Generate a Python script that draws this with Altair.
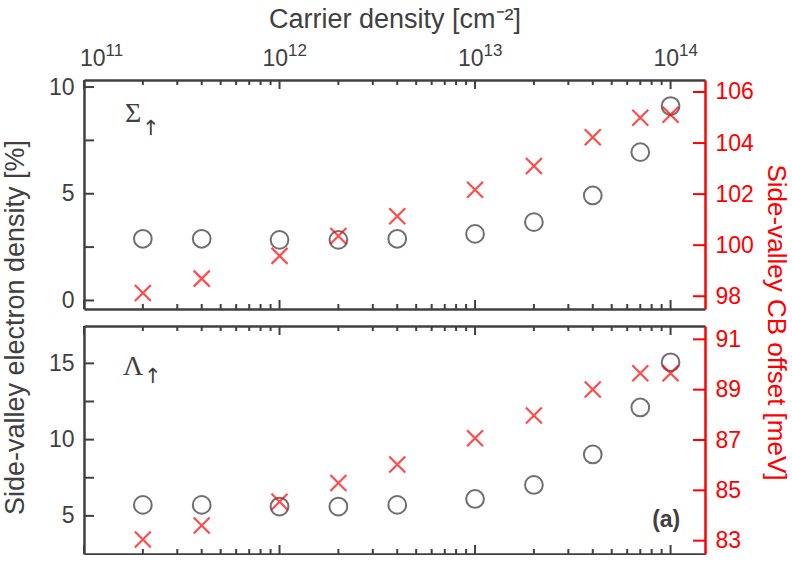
import altair as alt
import pandas as pd

# ---------------- data ----------------
carrier_density = [2e11, 4e11, 1e12, 2e12, 4e12, 1e13, 2e13, 4e13, 7e13, 1e14]
sigma_side_valley_pct = [2.89, 2.89, 2.84, 2.84, 2.89, 3.12, 3.67, 4.92, 6.95, 9.11]
sigma_cb_offset_mev = [98.13, 98.69, 99.58, 100.36, 101.13, 102.17, 103.10, 104.23, 104.99, 105.11]
lambda_side_valley_pct = [5.72, 5.72, 5.61, 5.61, 5.72, 6.11, 7.03, 9.03, 12.11, 15.07]
lambda_cb_offset_mev = [83.05, 83.60, 84.55, 85.29, 86.03, 87.07, 87.97, 89.01, 89.65, 89.65]

x_domain = [1e11, 1.5e14]
x_major_ticks = [1e11, 1e12, 1e13, 1e14]
x_minor_ticks = [2e11, 3e11, 4e11, 5e11, 6e11, 7e11, 8e11, 9e11,
                 2e12, 3e12, 4e12, 5e12, 6e12, 7e12, 8e12, 9e12,
                 2e13, 3e13, 4e13, 5e13, 6e13, 7e13, 8e13, 9e13]

top_left_domain = [-0.4, 10.33]
top_left_ticks = [0, 2.5, 5, 7.5, 10]
top_left_labels = [0, 5, 10]
top_right_domain = [97.5, 106.47]
top_right_ticks = [98, 100, 102, 104, 106]

bot_left_domain = [2.5, 17.45]
bot_left_ticks = [5, 7.5, 10, 12.5, 15]
bot_left_labels = [5, 10, 15]
bot_right_domain = [82.47, 91.53]
bot_right_ticks = [83, 85, 87, 89, 91]

# annotation texts (positions in data units)
panel_symbols = ["Σ", "Λ"]
symbol_x = [1.62e11, 1.585e11]
symbol_y = [8.36, 14.25]
arrow_x = [1.98e11, 2.03e11]
arrow_y = [7.75, 13.73]
panel_tag = "(a)"
tag_x = 9.5e13
tag_y = 4.3

GRAY = "#404040"
RED = "#ff0000"
W = 621
H_TOP = 229
H_BOT = 228
FONT = "Liberation Sans"
X_SHAPE = "M -1 -1 L 1 1 M -1 1 L 1 -1"


def make_panel(pct, mev, left_dom, left_ticks, left_labels, right_dom, right_ticks,
               H, idx, top):
    df = pd.DataFrame({"n": carrier_density, "pct": pct, "mev": mev})
    xs = alt.Scale(type="log", domain=x_domain)
    ysl = alt.Scale(domain=left_dom)
    ysr = alt.Scale(domain=right_dom)

    circle = dict(shape="circle", filled=False, size=314, stroke="#333333", strokeWidth=2)
    cross = dict(shape=X_SHAPE, filled=False, size=256, stroke=RED, strokeWidth=2.2)

    layers = []

    # inward tick marks (MATLAB style) drawn as short rules at the tick values
    def xticks(values, length):
        d = pd.DataFrame({"n": values})
        top_t = alt.Chart(d).mark_rule(color=GRAY, strokeWidth=2).encode(
            x=alt.X("n:Q", scale=xs, axis=None), y=alt.value(0), y2=alt.value(length))
        bot_t = alt.Chart(d).mark_rule(color=GRAY, strokeWidth=2).encode(
            x=alt.X("n:Q", scale=xs, axis=None), y=alt.value(H), y2=alt.value(H - length))
        return [top_t, bot_t]

    layers += xticks(x_major_ticks, 9)
    layers += xticks(x_minor_ticks, 5)
    layers.append(alt.Chart(pd.DataFrame({"v": left_ticks})).mark_rule(color=GRAY, strokeWidth=2).encode(
        y=alt.Y("v:Q", scale=ysl, axis=None), x=alt.value(0), x2=alt.value(10)))
    layers.append(alt.Chart(pd.DataFrame({"v": right_ticks})).mark_rule(color=RED, strokeWidth=2).encode(
        y=alt.Y("v:Q", scale=ysr, axis=None), x=alt.value(W), x2=alt.value(W - 12)))

    # circles; top spine (+labels for top panel); left spine + labels
    if top:
        xa1 = alt.Axis(orient="top", values=x_major_ticks, labelExpr="'10'",
                       labelAlign="right", labelFlush=False,
                       labelOffset={"condition": {"test": "datum.value < 1.5e11", "value": 21}, "value": 8},
                       labelPadding=10, ticks=False, tickSize=0, domain=True,
                       title="Carrier density [cm⁻²]", titleX=W / 2, titleY=-53,
                       titleBaseline="alphabetic", titleAlign="center")
        ya1 = alt.Axis(orient="left", values=left_labels, ticks=False, tickSize=0,
                       labelPadding=10, domain=True,
                       title="Side-valley electron density [%]", titleAngle=270,
                       titleX=-55, titleY=247, titleAlign="center")
    else:
        xa1 = alt.Axis(orient="top", labels=False, ticks=False, tickSize=0, domain=True, title=None)
        ya1 = alt.Axis(orient="left", values=left_labels, ticks=False, tickSize=0,
                       labelPadding=10, domain=True, title=None)
    layers.append(alt.Chart(df).mark_point(**circle).encode(
        x=alt.X("n:Q", scale=xs, axis=xa1),
        y=alt.Y("pct:Q", scale=ysl, axis=ya1),
    ))

    # crosses; bottom spine; right red spine + labels
    if top:
        ya3 = alt.Axis(orient="right", values=right_ticks, ticks=False, tickSize=0,
                       labelPadding=10, labelColor=RED, domain=True, domainColor=RED,
                       title="Side-valley CB offset [meV]", titleColor=RED, titleAngle=90,
                       titleFontSize=26, titleX=57, titleY=242, titleAlign="center")
    else:
        ya3 = alt.Axis(orient="right", values=right_ticks, ticks=False, tickSize=0,
                       labelPadding=10, labelColor=RED, domain=True, domainColor=RED, title=None)
    layers.append(alt.Chart(df).mark_point(**cross).encode(
        x=alt.X("n:Q", scale=xs, axis=alt.Axis(orient="bottom", labels=False, ticks=False,
                                                tickSize=0, domain=True, title=None)),
        y=alt.Y("mev:Q", scale=ysr, axis=ya3),
    ))

    if top:
        layers.append(alt.Chart(df).mark_point(**circle, opacity=0).encode(
            x=alt.X("n:Q", scale=xs, axis=alt.Axis(
                orient="top", values=x_major_ticks,
                labelExpr="datum.value < 5e11 ? '11' : datum.value < 5e12 ? '12' : datum.value < 5e13 ? '13' : '14'",
                labelAlign="left", labelFlush=False,
                labelOffset={"condition": {"test": "datum.value < 1.5e11", "value": 21}, "value": 8},
                labelFontSize=17, labelPadding=21, ticks=False, tickSize=0, domain=False, title=None)),
            y=alt.Y("pct:Q", scale=ysl, axis=None),
        ))

    sym_df = pd.DataFrame({"n": [symbol_x[idx]], "v": [symbol_y[idx]], "t": [panel_symbols[idx]]})
    arr_df = pd.DataFrame({"n": [arrow_x[idx]], "v": [arrow_y[idx]], "t": ["↑"]})
    layers.append(alt.Chart(sym_df).mark_text(font="Liberation Serif", fontSize=28, align="left",
                                               baseline="alphabetic", color=GRAY).encode(
        x=alt.X("n:Q", scale=xs, axis=None), y=alt.Y("v:Q", scale=ysl, axis=None), text="t:N"))
    layers.append(alt.Chart(arr_df).mark_text(font="DejaVu Sans", fontSize=21, align="left",
                                               baseline="alphabetic", color=GRAY).encode(
        x=alt.X("n:Q", scale=xs, axis=None), y=alt.Y("v:Q", scale=ysl, axis=None), text="t:N"))

    if not top:
        tag_df = pd.DataFrame({"n": [tag_x], "v": [tag_y], "t": [panel_tag]})
        layers.append(alt.Chart(tag_df).mark_text(font=FONT, fontSize=23, fontWeight="bold",
                                                   align="center", baseline="alphabetic",
                                                   color=GRAY).encode(
            x=alt.X("n:Q", scale=xs, axis=None), y=alt.Y("v:Q", scale=ysl, axis=None), text="t:N"))

    return alt.layer(*layers).resolve_scale(x="independent", y="independent").properties(
        width=W, height=H)


top_panel = make_panel(sigma_side_valley_pct, sigma_cb_offset_mev, top_left_domain, top_left_ticks,
                       top_left_labels, top_right_domain, top_right_ticks, H_TOP, 0, True)
bot_panel = make_panel(lambda_side_valley_pct, lambda_cb_offset_mev, bot_left_domain, bot_left_ticks,
                       bot_left_labels, bot_right_domain, bot_right_ticks, H_BOT, 1, False)

chart = alt.vconcat(top_panel, bot_panel, spacing=17, bounds="flush").properties(
    padding={"left": 0, "top": 5, "right": 0, "bottom": 0}
).configure_view(stroke=None).configure_axis(
    labelFont=FONT, titleFont=FONT, labelColor=GRAY, titleColor=GRAY,
    labelFontSize=23, titleFontSize=27, titleFontWeight="normal",
    domainColor=GRAY, tickColor=GRAY, domainWidth=2.5, grid=False,
)

chart.save("out.html", embed_options={"renderer": "svg", "actions": False})
